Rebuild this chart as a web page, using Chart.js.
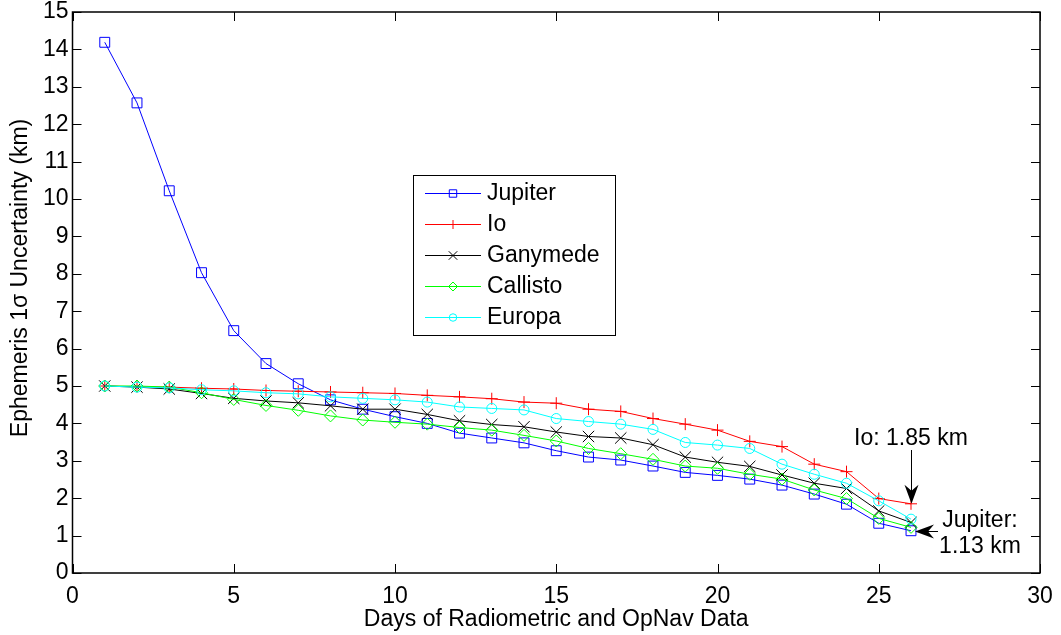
<!DOCTYPE html>
<html>
<head>
<meta charset="utf-8">
<script src="https://cdn.jsdelivr.net/npm/chart.js"></script>
<style>
  body { margin: 0; background: #fff; }
  #wrap { width: 1061px; height: 635px; }
</style>
</head>
<body>
<div id="wrap"><canvas id="myChart" width="1061" height="635"></canvas></div>
<script>
// data
const days = [1, 2, 3, 4, 5, 6, 7, 8, 9, 10, 11, 12, 13, 14, 15, 16, 17, 18, 19, 20, 21, 22, 23, 24, 25, 26];
const jupiter = [14.19, 12.57, 10.22, 8.03, 6.48, 5.6, 5.06, 4.63, 4.38, 4.18, 4.0, 3.74, 3.61, 3.48, 3.27, 3.1, 3.02, 2.86, 2.69, 2.61, 2.51, 2.35, 2.11, 1.84, 1.33, 1.13];
const io = [5.0, 4.98, 4.97, 4.94, 4.92, 4.88, 4.86, 4.84, 4.82, 4.8, 4.75, 4.71, 4.66, 4.57, 4.54, 4.38, 4.32, 4.13, 3.98, 3.82, 3.52, 3.38, 2.91, 2.71, 1.99, 1.85];
const ganymede = [5.0, 4.97, 4.92, 4.8, 4.67, 4.6, 4.55, 4.47, 4.38, 4.38, 4.24, 4.07, 3.97, 3.91, 3.77, 3.65, 3.61, 3.43, 3.1, 2.96, 2.85, 2.62, 2.4, 2.26, 1.66, 1.35];
const callisto = [5.0, 5.0, 4.97, 4.82, 4.64, 4.48, 4.35, 4.2, 4.09, 4.03, 3.98, 3.89, 3.82, 3.68, 3.53, 3.33, 3.19, 3.04, 2.86, 2.8, 2.64, 2.51, 2.22, 1.99, 1.46, 1.22];
const europa = [5.0, 4.97, 4.95, 4.9, 4.87, 4.82, 4.79, 4.71, 4.67, 4.63, 4.57, 4.44, 4.4, 4.36, 4.13, 4.05, 3.98, 3.84, 3.49, 3.42, 3.33, 2.91, 2.64, 2.4, 1.93, 1.44];

const names = ["Jupiter", "Io", "Ganymede", "Callisto", "Europa"];
const colors = ["#0000ff", "#ff0000", "#000000", "#00ff00", "#00ffff"];
const markers = ["rect", "cross", "crossRot", "rectRot", "circle"];
const markerSize = [7, 6, 8, 6, 5];

const xTicks = [0, 5, 10, 15, 20, 25, 30];
const yTicks = [0, 1, 2, 3, 4, 5, 6, 7, 8, 9, 10, 11, 12, 13, 14, 15];

const FONT = "'Liberation Sans', Arial, Helvetica, sans-serif";
Chart.defaults.font.family = FONT;
Chart.defaults.font.size = 23;
Chart.defaults.color = "#000";

function toPoints(vals) {
  return days.map((d, i) => ({x: d, y: vals[i]}));
}

const series = [jupiter, io, ganymede, callisto, europa];
const datasets = series.map((vals, i) => ({
  label: names[i],
  data: toPoints(vals),
  borderColor: colors[i],
  backgroundColor: colors[i],
  borderWidth: 1,
  pointStyle: markers[i],
  pointRadius: markerSize[i],
  pointBorderColor: colors[i],
  pointBackgroundColor: "rgba(0,0,0,0)",
  pointBorderWidth: 1,
  tension: 0,
  order: 5 - i
}));

// MATLAB style box, inward ticks, legend, y title and the arrows
const matlabBits = {
  id: "matlabBits",
  afterDraw(chart) {
    const ctx = chart.ctx;
    const a = chart.chartArea;
    const xs = chart.scales.x, ys = chart.scales.y;
    ctx.save();

    // inward ticks
    ctx.strokeStyle = "#000";
    ctx.lineWidth = 1;
    const tl = 9;
    xTicks.forEach(v => {
      const px = Math.round(xs.getPixelForValue(v)) + 0.5;
      ctx.beginPath();
      ctx.moveTo(px, a.bottom); ctx.lineTo(px, a.bottom - tl);
      ctx.moveTo(px, a.top); ctx.lineTo(px, a.top + tl);
      ctx.stroke();
    });
    yTicks.forEach(v => {
      const py = Math.round(ys.getPixelForValue(v)) + 0.5;
      ctx.beginPath();
      ctx.moveTo(a.left, py); ctx.lineTo(a.left + tl, py);
      ctx.moveTo(a.right, py); ctx.lineTo(a.right - tl, py);
      ctx.stroke();
    });

    // box
    ctx.lineWidth = 1.5;
    ctx.strokeRect(a.left, a.top, a.right - a.left, a.bottom - a.top);

    // y axis title
    ctx.save();
    ctx.translate(21, 278);
    ctx.rotate(-Math.PI / 2);
    ctx.font = "23px " + FONT;
    ctx.fillStyle = "#000";
    ctx.textAlign = "center";
    ctx.textBaseline = "middle";
    ctx.fillText("Ephemeris 1\u03c3 Uncertainty (km)", 0, 0);
    ctx.restore();

    // legend
    const lx = 413, ly = 175, lw = 202, lh = 160;
    ctx.fillStyle = "#fff";
    ctx.fillRect(lx, ly, lw, lh);
    ctx.strokeStyle = "#000";
    ctx.lineWidth = 1;
    ctx.strokeRect(lx + 0.5, ly + 0.5, lw, lh);
    ctx.font = "23px " + FONT;
    ctx.textBaseline = "middle";
    ctx.textAlign = "left";
    names.forEach((n, i) => {
      const y = ly + 18 + i * 31;
      ctx.strokeStyle = colors[i];
      ctx.lineWidth = 1;
      ctx.beginPath();
      ctx.moveTo(425, y + 0.5); ctx.lineTo(481, y + 0.5);
      ctx.stroke();
      if (Chart.helpers && Chart.helpers.drawPoint) {
        ctx.fillStyle = "rgba(0,0,0,0)";
        Chart.helpers.drawPoint(ctx, {pointStyle: markers[i], radius: markerSize[i] * 0.75, rotation: 0, borderWidth: 1}, 453, y + 0.5);
      }
      ctx.fillStyle = "#000";
      ctx.fillText(n, 487, y + 1);
    });

    // annotations
    const ioX = xs.getPixelForValue(26), ioY = ys.getPixelForValue(1.85);
    const jX = xs.getPixelForValue(26), jY = ys.getPixelForValue(1.13);
    ctx.fillStyle = "#000";
    ctx.strokeStyle = "#000";
    ctx.lineWidth = 1;
    ctx.textAlign = "center";
    ctx.textBaseline = "alphabetic";
    ctx.fillText("Io: 1.85 km", 911, 445);
    ctx.fillText("Jupiter:", 980, 527);
    ctx.fillText("1.13 km", 980, 553);

    const vx = Math.round(ioX) + 0.5;
    ctx.beginPath();
    ctx.moveTo(vx, 450); ctx.lineTo(vx, ioY - 2);
    ctx.stroke();
    ctx.beginPath();
    ctx.moveTo(vx, ioY); ctx.lineTo(vx - 7, ioY - 19); ctx.lineTo(vx, ioY - 13); ctx.lineTo(vx + 7, ioY - 19);
    ctx.closePath(); ctx.fill();

    const tipX = jX + 4, hy = Math.round(jY) + 0.5;
    ctx.beginPath();
    ctx.moveTo(938, hy); ctx.lineTo(tipX + 2, hy);
    ctx.stroke();
    ctx.beginPath();
    ctx.moveTo(tipX, hy); ctx.lineTo(tipX + 19, hy - 7); ctx.lineTo(tipX + 13, hy); ctx.lineTo(tipX + 19, hy + 7);
    ctx.closePath(); ctx.fill();

    ctx.restore();
  }
};

new Chart("myChart", {
  type: "line",
  data: { datasets: datasets },
  options: {
    responsive: false,
    animation: false,
    layout: { padding: { top: 12, right: 21, left: 0, bottom: 0 } },
    plugins: { legend: { display: false }, tooltip: { enabled: false } },
    scales: {
      x: {
        type: "linear",
        min: 0, max: 30,
        afterBuildTicks: s => { s.ticks = xTicks.map(v => ({value: v})); },
        afterFit: s => { s.height = 62; s.paddingLeft = 0; s.paddingRight = 0; },
        grid: { display: false, drawTicks: false },
        border: { display: false },
        ticks: { autoSkip: false, maxRotation: 0, padding: 10, color: "#000" },
        title: { display: true, text: "Days of Radiometric and OpNav Data", padding: { top: 0, bottom: 2 }, color: "#000" }
      },
      y: {
        type: "linear",
        min: 0, max: 15,
        afterBuildTicks: s => { s.ticks = yTicks.map(v => ({value: v})); },
        afterFit: s => { s.width = 72.5; s.paddingTop = 0; s.paddingBottom = 0; },
        grid: { display: false, drawTicks: false },
        border: { display: false },
        ticks: { autoSkip: false, padding: 4, color: "#000" }
      }
    }
  },
  plugins: [matlabBits]
});
</script>
</body>
</html>
